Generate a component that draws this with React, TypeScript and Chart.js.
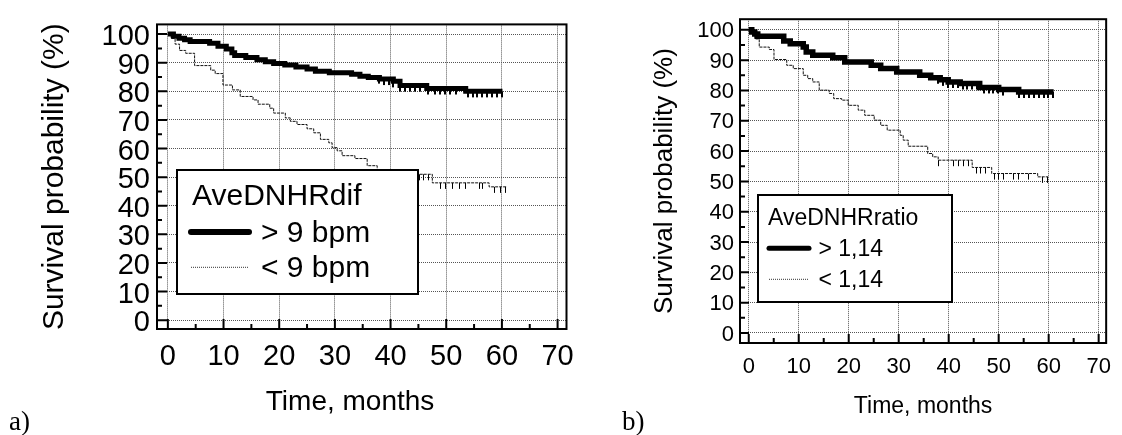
import React, { useEffect, useRef } from 'react';
import { Chart, registerables } from 'chart.js';

Chart.register(...registerables);

const FONT = "'Liberation Sans', Arial, sans-serif";

// ---------- shared axis data ----------
const X_TICKS = [0, 10, 20, 30, 40, 50, 60, 70];
const Y_TICKS = [0, 10, 20, 30, 40, 50, 60, 70, 80, 90, 100];
const X_TITLE = 'Time, months';
const Y_TITLE = 'Survival probability (%)';

// ---------- panel a ----------
const A_HIGH_TIME = [0, 1, 2, 3, 4, 7.5, 9, 10.5, 11.5, 12, 14, 16, 17.5, 19, 21, 23, 25, 26.5, 29, 33, 34.5, 36, 38, 40.5, 41.7, 46.5, 53.5, 60.1];
const A_HIGH_SURV = [100, 99.3, 98.6, 98, 97.4, 96.8, 95.8, 94.8, 93.5, 92.5, 91.8, 91, 90.3, 89.7, 89.2, 88.5, 87.8, 87, 86.5, 86, 85.3, 84.8, 84.3, 83.5, 82, 81, 80, 80];
const A_HIGH_CENSORED = [37.9, 38.8, 39.7, 40.5, 41.7, 42.6, 43.5, 44.4, 45.3, 46.8, 47.9, 48.8, 49.7, 50.6, 51.8, 53.9, 54.8, 55.6, 56.5, 57.4, 58.3, 59.2, 60.1];
const A_LOW_TIME = [0, 0.6, 1.3, 2.1, 3.2, 4.8, 7.7, 8.5, 9.9, 11.6, 13, 15.3, 16.2, 18.3, 19, 21.1, 22, 23.2, 25, 26.2, 27.4, 28.9, 29.5, 30.4, 31.3, 33.6, 35.8, 37.6, 39.5, 47.5, 57.7, 60.9];
const A_LOW_SURV = [100, 98.5, 96.5, 94.3, 93.3, 89, 87.4, 86.2, 82.2, 80.5, 78.2, 77, 75.5, 74.1, 72.4, 70.7, 69.5, 68.4, 66.9, 65.5, 63.2, 62, 60.3, 59.2, 57.5, 56.5, 54, 52.5, 51, 48, 46.6, 46.6];
const A_LOW_CENSORED = [45.2, 46.0, 46.8, 48.9, 49.9, 51.1, 52.4, 53.4, 55.9, 56.6, 58.7, 59.8, 60.6];
const A_LEGEND_TITLE = 'AveDNHRdif';
const A_LABELS = ['> 9 bpm', '< 9 bpm'];

// ---------- panel b ----------
const B_HIGH_TIME = [0, 0.6, 1.2, 1.8, 7, 8.3, 10.9, 11.5, 12.8, 16.8, 19.2, 24.5, 26.4, 29.6, 34.2, 36.4, 38.3, 39.9, 42.3, 46.2, 50, 54, 61];
const B_HIGH_SURV = [100, 99.3, 98.6, 97.9, 96.3, 95.4, 94.3, 92.7, 91.6, 90.8, 89.4, 88.3, 87.2, 86.1, 85, 84.2, 83.5, 82.8, 82.3, 81, 80.3, 79.5, 79.5];
const B_HIGH_CENSORED = [37.9, 38.9, 39.9, 40.8, 41.8, 42.8, 43.7, 44.7, 45.6, 47.0, 48.0, 48.9, 49.9, 50.9, 54.0, 55.1, 56.1, 57.0, 58.0, 59.0, 59.9, 60.9];
const B_LOW_TIME = [0, 0.6, 1.2, 2.1, 4.1, 5.05, 7.6, 8.9, 10.9, 11.8, 12.8, 14.1, 16.1, 17, 18.6, 19.9, 21.9, 23.2, 25.1, 26.4, 27.7, 30.3, 30.9, 31.9, 35.8, 36.8, 37.9, 44.7, 48.6, 57.8, 59.9];
const B_LOW_SURV = [100, 98.5, 97, 94.3, 93.5, 90.2, 88.3, 87.2, 85, 83.9, 82.8, 80.1, 79, 77.3, 76.8, 75.1, 73.5, 71.8, 70.2, 68.5, 66.9, 65.2, 63.6, 61.6, 59.2, 58.1, 57, 54.6, 52.6, 51.5, 51.5];
const B_LOW_CENSORED = [37.9, 41.0, 42.0, 42.9, 43.9, 45.5, 46.4, 47.4, 49.1, 50.0, 51.0, 52.9, 53.9, 55.9, 58.8, 59.8];
const B_LEGEND_TITLE = 'AveDNHRratio';
const B_LABELS = ['> 1,14', '< 1,14'];

// ---------- helpers ----------
function survAt(times: number[], surv: number[], t: number) {
  let s = surv[0];
  for (let i = 0; i < times.length; i++) if (times[i] <= t) s = surv[i];
  return s;
}
function curve(times: number[], surv: number[]) {
  return times.map((t, i) => ({ x: t, y: surv[i] }));
}
function censor(times: number[], surv: number[], marks: number[]) {
  return marks.map((t) => ({ x: t, y: survAt(times, surv, t) }));
}
function makeMark(w: number, len: number) {
  const c = document.createElement('canvas');
  c.width = Math.max(1, Math.ceil(w));
  c.height = len * 2;
  const g = c.getContext('2d')!;
  g.fillStyle = '#000';
  g.fillRect(0, len, w, len - 1);
  return c;
}

interface PanelCfg {
  canvasLeft: number; canvasWidth: number; canvasHeight: number;
  area: { left: number; top: number; right: number; bottom: number };
  xRange: [number, number]; yRange: [number, number];
  tickFont: number; xTitleFont: number; yTitleFont: number; legendFont: number;
  tickPadX: number; tickPadY: number; yLabelOffset: number; xTitlePad: number; yTitlePad: number;
  xTitleText: string;
  majorLen: number; minorLen: number;
  thick: number; legendThick: number; markLen: number;
  legend: { left: number; top: number; right: number; bottom: number; titleX: number; titleY: number;
    lineX1: number; lineX2: number; textX: number; lineY: number[]; textY: number[] };
  legendTitle: string; labels: string[];
  hiT: number[]; hiS: number[]; hiC: number[]; loT: number[]; loS: number[]; loC: number[];
}

const PANEL_A: PanelCfg = {
  canvasLeft: 0, canvasWidth: 585, canvasHeight: 435,
  area: { left: 157, top: 20, right: 572, bottom: 329 },
  xRange: [-1.95, 71.6], yRange: [-3.1, 103.4],
  tickFont: 29, xTitleFont: 28, yTitleFont: 30, legendFont: 30,
  tickPadX: 11, tickPadY: 7, yLabelOffset: 3, xTitlePad: 16, yTitlePad: 37,
  xTitleText: X_TITLE + '   ',
  majorLen: 10, minorLen: 5,
  thick: 5, legendThick: 6, markLen: 7,
  legend: { left: 177, top: 170, right: 418, bottom: 294, titleX: 192, titleY: 196.5,
    lineX1: 191, lineX2: 249, textX: 261, lineY: [232, 267.3], textY: [233.5, 268.5] },
  legendTitle: A_LEGEND_TITLE, labels: A_LABELS,
  hiT: A_HIGH_TIME, hiS: A_HIGH_SURV, hiC: A_HIGH_CENSORED,
  loT: A_LOW_TIME, loS: A_LOW_SURV, loC: A_LOW_CENSORED,
};

const PANEL_B: PanelCfg = {
  canvasLeft: 585, canvasWidth: 537, canvasHeight: 435,
  area: { left: 155, top: 19, right: 532, bottom: 343 },
  xRange: [-1.75, 71.5], yRange: [-3.3, 103.5],
  tickFont: 22, xTitleFont: 23, yTitleFont: 26, legendFont: 23,
  tickPadX: 11, tickPadY: 6, yLabelOffset: 1.5, xTitlePad: 15, yTitlePad: 64,
  xTitleText: X_TITLE,
  majorLen: 9, minorLen: 5,
  thick: 5.5, legendThick: 5, markLen: 7,
  legend: { left: 173, top: 195, right: 367, bottom: 302, titleX: 183, titleY: 218.5,
    lineX1: 184, lineX2: 224, textX: 233.5, lineY: [248.3, 279.3], textY: [249.5, 281] },
  legendTitle: B_LEGEND_TITLE, labels: B_LABELS,
  hiT: B_HIGH_TIME, hiS: B_HIGH_SURV, hiC: B_HIGH_CENSORED,
  loT: B_LOW_TIME, loS: B_LOW_SURV, loC: B_LOW_CENSORED,
};

function makeDecor(p: PanelCfg) {
  return {
    id: 'decor',
    afterDatasetsDraw(chart: any) {
      const { ctx } = chart;
      const lg = p.legend;
      ctx.save();
      ctx.fillStyle = '#fff';
      ctx.fillRect(lg.left, lg.top, lg.right - lg.left, lg.bottom - lg.top);
      ctx.lineWidth = 2;
      ctx.strokeStyle = '#000';
      ctx.strokeRect(lg.left, lg.top, lg.right - lg.left, lg.bottom - lg.top);
      ctx.fillStyle = '#000';
      ctx.font = `${p.legendFont}px ${FONT}`;
      ctx.textAlign = 'left';
      ctx.textBaseline = 'middle';
      ctx.fillText(p.legendTitle, lg.titleX, lg.titleY);
      chart.data.datasets.slice(0, 2).forEach((ds: any, i: number) => {
        ctx.beginPath();
        if (i === 0) {
          ctx.lineWidth = p.legendThick;
          ctx.lineCap = 'round';
          ctx.setLineDash([]);
          ctx.strokeStyle = '#000';
        } else {
          ctx.lineWidth = 1;
          ctx.lineCap = 'butt';
          ctx.setLineDash([1, 1]);
          ctx.strokeStyle = '#333';
        }
        ctx.moveTo(lg.lineX1, lg.lineY[i]);
        ctx.lineTo(lg.lineX2, lg.lineY[i]);
        ctx.stroke();
        ctx.setLineDash([]);
        ctx.fillText(ds.label, lg.textX, lg.textY[i]);
      });
      ctx.restore();
    },
    afterDraw(chart: any) {
      const { ctx, chartArea: a, scales } = chart;
      const x = scales.x, y = scales.y;
      ctx.save();
      ctx.strokeStyle = '#000';
      ctx.lineWidth = 2;
      ctx.strokeRect(a.left, a.top, a.right - a.left, a.bottom - a.top);
      ctx.beginPath();
      X_TICKS.forEach((v, i) => {
        const px = x.getPixelForValue(v);
        ctx.moveTo(px, a.bottom);
        ctx.lineTo(px, a.bottom - p.majorLen);
        if (i < X_TICKS.length - 1) {
          const mx = x.getPixelForValue((v + X_TICKS[i + 1]) / 2);
          ctx.moveTo(mx, a.bottom);
          ctx.lineTo(mx, a.bottom - p.minorLen);
        }
      });
      Y_TICKS.forEach((v, i) => {
        const py = y.getPixelForValue(v);
        ctx.moveTo(a.left, py);
        ctx.lineTo(a.left + p.majorLen, py);
        if (i < Y_TICKS.length - 1) {
          const my = y.getPixelForValue((v + Y_TICKS[i + 1]) / 2);
          ctx.moveTo(a.left, my);
          ctx.lineTo(a.left + p.minorLen, my);
        }
      });
      ctx.stroke();
      ctx.restore();
    },
  };
}

function buildConfig(p: PanelCfg): any {
  const thickMark = makeMark(2, p.markLen);
  const thinMark = makeMark(1, p.markLen);
  const tickFont = { family: FONT, size: p.tickFont };
  return {
    type: 'line',
    data: {
      datasets: [
        { label: p.labels[0], data: curve(p.hiT, p.hiS), borderColor: '#000', borderWidth: p.thick,
          stepped: 'before', pointRadius: 0, fill: false },
        { label: p.labels[1], data: curve(p.loT, p.loS), borderColor: '#111', borderWidth: 1,
          borderDash: [3, 1], stepped: 'before', pointRadius: 0, fill: false },
        { label: 'censored-high', data: censor(p.hiT, p.hiS, p.hiC), showLine: false,
          pointStyle: thickMark, pointRadius: 3 },
        { label: 'censored-low', data: censor(p.loT, p.loS, p.loC), showLine: false,
          pointStyle: thinMark, pointRadius: 3 },
      ],
    },
    options: {
      animation: false,
      responsive: false,
      events: [],
      layout: { padding: { left: 0, top: p.area.top, right: p.canvasWidth - p.area.right, bottom: 0 } },
      plugins: { legend: { display: false }, tooltip: { enabled: false } },
      scales: {
        x: {
          type: 'linear', min: p.xRange[0], max: p.xRange[1],
          afterBuildTicks: (s: any) => { s.ticks = X_TICKS.map((v) => ({ value: v })); },
          afterFit: (s: any) => { s.height = p.canvasHeight - p.area.bottom; },
          grid: { color: '#555', lineWidth: 1, drawTicks: false },
          border: { display: false, dash: [1, 1] },
          ticks: { font: tickFont, color: '#000', padding: p.tickPadX, maxRotation: 0, autoSkip: false,
            callback: (v: any) => String(v) },
          title: { display: true, text: p.xTitleText, color: '#000',
            font: { family: FONT, size: p.xTitleFont }, padding: { top: 0, bottom: p.xTitlePad } },
        },
        y: {
          type: 'linear', min: p.yRange[0], max: p.yRange[1],
          afterBuildTicks: (s: any) => { s.ticks = Y_TICKS.map((v) => ({ value: v })); },
          afterFit: (s: any) => { s.width = p.area.left; },
          grid: { color: '#555', lineWidth: 1, drawTicks: false },
          border: { display: false, dash: [1, 1] },
          ticks: { font: tickFont, color: '#000', padding: p.tickPadY, autoSkip: false,
            labelOffset: p.yLabelOffset, callback: (v: any) => String(v) },
          title: { display: true, text: Y_TITLE, color: '#000',
            font: { family: FONT, size: p.yTitleFont }, padding: { top: p.yTitlePad, bottom: 0 } },
        },
      },
    },
    plugins: [makeDecor(p)],
  };
}

function Panel({ cfg }: { cfg: PanelCfg }) {
  const ref = useRef<HTMLCanvasElement | null>(null);
  useEffect(() => {
    const chart = new Chart(ref.current as HTMLCanvasElement, buildConfig(cfg));
    return () => chart.destroy();
  }, [cfg]);
  return (
    <canvas
      ref={ref}
      width={cfg.canvasWidth}
      height={cfg.canvasHeight}
      style={{ position: 'absolute', left: cfg.canvasLeft, top: 0, width: cfg.canvasWidth, height: cfg.canvasHeight }}
    />
  );
}

const PANEL_TAGS = ['a)', 'b)'];

export default function App() {
  const tagStyle = (left: number): React.CSSProperties => ({
    position: 'absolute', left, top: 408, fontFamily: "'Liberation Serif', 'Times New Roman', serif",
    fontSize: 27, lineHeight: '27px', color: '#000', whiteSpace: 'nowrap',
  });
  return (
    <div style={{ position: 'absolute', left: 0, top: 0, width: 1122, height: 435, background: '#fff', overflow: 'hidden' }}>
      <Panel cfg={PANEL_A} />
      <Panel cfg={PANEL_B} />
      <div style={tagStyle(9)}>{PANEL_TAGS[0]}</div>
      <div style={tagStyle(622)}>{PANEL_TAGS[1]}</div>
    </div>
  );
}
